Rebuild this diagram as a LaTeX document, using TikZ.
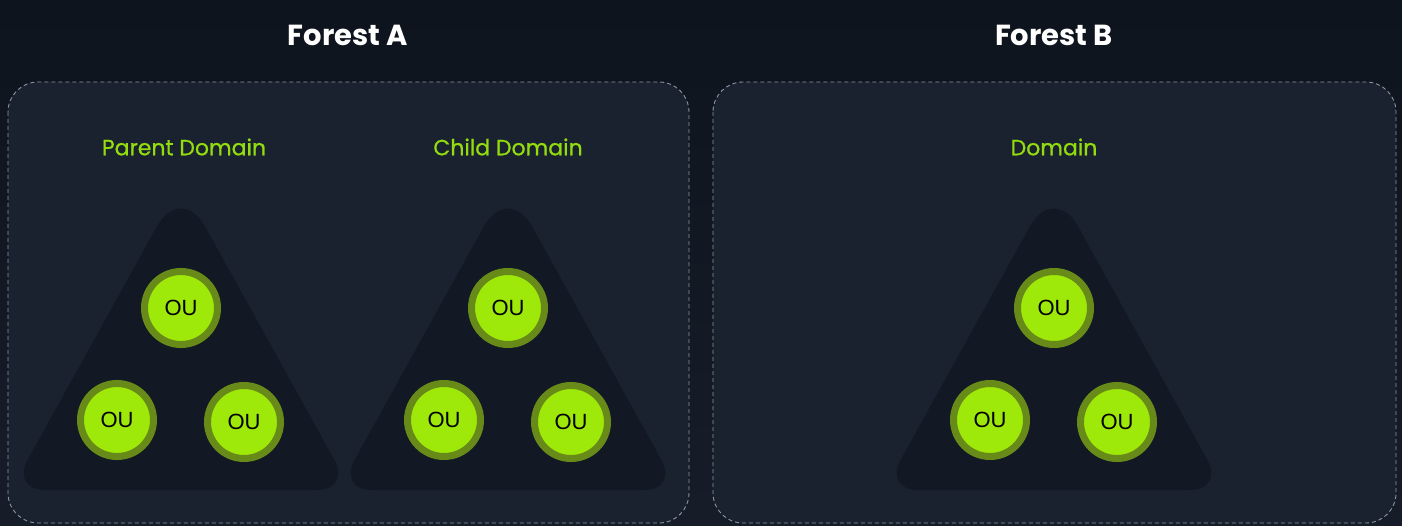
\documentclass[tikz,border=0pt]{standalone}
\usepackage{fontspec}
\setmainfont{Poppins}
\newfontfamily\medfont[FakeBold=0.8]{Poppins}
\newfontfamily\oufont{Liberation Sans}
\definecolor{bgtop}{HTML}{0E141D}
\definecolor{bgbot}{HTML}{161D29}
\definecolor{panelfill}{HTML}{1A2230}
\definecolor{trifill}{HTML}{121924}
\definecolor{lime}{HTML}{9EE80A}
\definecolor{olive}{HTML}{688A18}
\definecolor{dashgray}{HTML}{8C95A3}
\definecolor{labelgreen}{HTML}{93DC0E}
\tikzset{
  panel/.style={draw=dashgray, fill=panelfill, dash pattern=on 4pt off 3pt, line width=0.9pt, rounded corners=30pt},
  title/.style={text=white, font=\bfseries\fontsize{29}{34}\selectfont},
  domlabel/.style={text=labelgreen, font=\medfont\fontsize{22}{26}\selectfont},
  tri/.style={fill=trifill},
  ou/.style={circle, fill=lime, draw=olive, line width=7pt, minimum size=73pt, inner sep=0pt, text=black, font=\oufont\fontsize{22}{22}\selectfont}
}
\begin{document}
\begin{tikzpicture}[x=1pt,y=-1pt]
\shade[top color=bgtop, bottom color=bgbot] (0,0) rectangle (1402,526);
\path
 (8,82)     coordinate (A1)
 (689,523)  coordinate (A2)
 (713,82)   coordinate (B1)
 (1396,523) coordinate (B2)
;
\draw[panel] (A1) rectangle (A2);
\draw[panel] (B1) rectangle (B2);
\node[title] (FA) at (348,35) {Forest A};
\node[title] (FB) at (1054,35) {Forest B};
\node[domlabel] (PD) at (184,147) {Parent Domain};
\node[domlabel] (CD) at (508,147) {Child Domain};
\node[domlabel] (DB) at (1054,147) {Domain};
\foreach \x/\n in {181/P,508/C,1054/D}{
  \fill[tri] (\x,490) [rounded corners=34pt] -- (\x+170,490)
    [rounded corners=50pt] -- (\x,183)
    [rounded corners=34pt] -- (\x-170,490) -- cycle;
  \node[ou] (\n1) at (\x,308) {OU};
  \node[ou] (\n2) at (\x-64,420) {OU};
  \node[ou] (\n3) at (\x+63,422) {OU};
}
\end{tikzpicture}
\end{document}
